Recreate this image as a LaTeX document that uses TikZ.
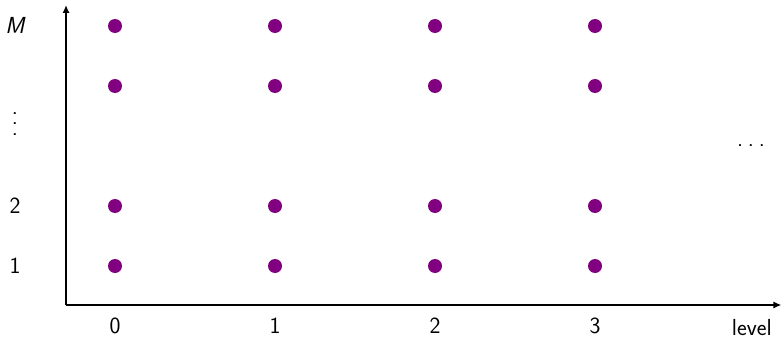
\documentclass[tikz,border=0pt]{standalone}
\usepackage{amsmath,amssymb}
\usetikzlibrary{arrows.meta}
\definecolor{dotpurple}{HTML}{800080}

\begin{document}
\begin{tikzpicture}[x=4cm,y=1.5cm]
\tikzset{
  gridpoint/.style={circle,fill=dotpurple,minimum size=3.5mm,inner sep=0pt},
  axis/.style={-{Latex[length=2mm,width=1.8mm]},line width=1.8pt},
  axislabel/.style={font=\fontsize{16.5}{19}\sffamily,inner sep=0pt}
}
\useasboundingbox (-0.71875,-0.18333) rectangle (4.16875,5.43333);
\coordinate (o) at (-0.306,0.35);
\coordinate (x_end) at (4.165,0.35);
\coordinate (y_end) at (-0.306,5.35);
\draw[axis] (o) -- (x_end);
\draw[axis] (o) -- (y_end);
\node[gridpoint] (p_0_1) at (0,1) {};
\node[gridpoint] (p_0_2) at (0,2) {};
\node[gridpoint] (p_0_4) at (0,4) {};
\node[gridpoint] (p_0_5) at (0,5) {};
\node[gridpoint] (p_1_1) at (1,1) {};
\node[gridpoint] (p_1_2) at (1,2) {};
\node[gridpoint] (p_1_4) at (1,4) {};
\node[gridpoint] (p_1_5) at (1,5) {};
\node[gridpoint] (p_2_1) at (2,1) {};
\node[gridpoint] (p_2_2) at (2,2) {};
\node[gridpoint] (p_2_4) at (2,4) {};
\node[gridpoint] (p_2_5) at (2,5) {};
\node[gridpoint] (p_3_1) at (3,1) {};
\node[gridpoint] (p_3_2) at (3,2) {};
\node[gridpoint] (p_3_4) at (3,4) {};
\node[gridpoint] (p_3_5) at (3,5) {};
\node[axislabel,anchor=base] (lx_0) at (0,-0.12) {0};
\node[axislabel,anchor=base] (lx_1) at (1,-0.12) {1};
\node[axislabel,anchor=base] (lx_2) at (2,-0.12) {2};
\node[axislabel,anchor=base] (lx_3) at (3,-0.12) {3};
\node[axislabel,anchor=base] (lx_level) at (3.98,-0.155) {level};
\node[axislabel] (ly_1) at (-0.625,1) {1};
\node[axislabel] (ly_2) at (-0.625,2) {2};
\node[axislabel,align=center,font=\fontsize{16.5}{7.5}\sffamily] (ly_dots) at (-0.625,3.37) {.\\.\\.};
\node[axislabel] (ly_M) at (-0.625,5.01) {\itshape M};
\node[axislabel,anchor=base] (l_hdots) at (3.975,2.985) {.\hspace{3.4pt}.\hspace{3.4pt}.};
\end{tikzpicture}
\end{document}
